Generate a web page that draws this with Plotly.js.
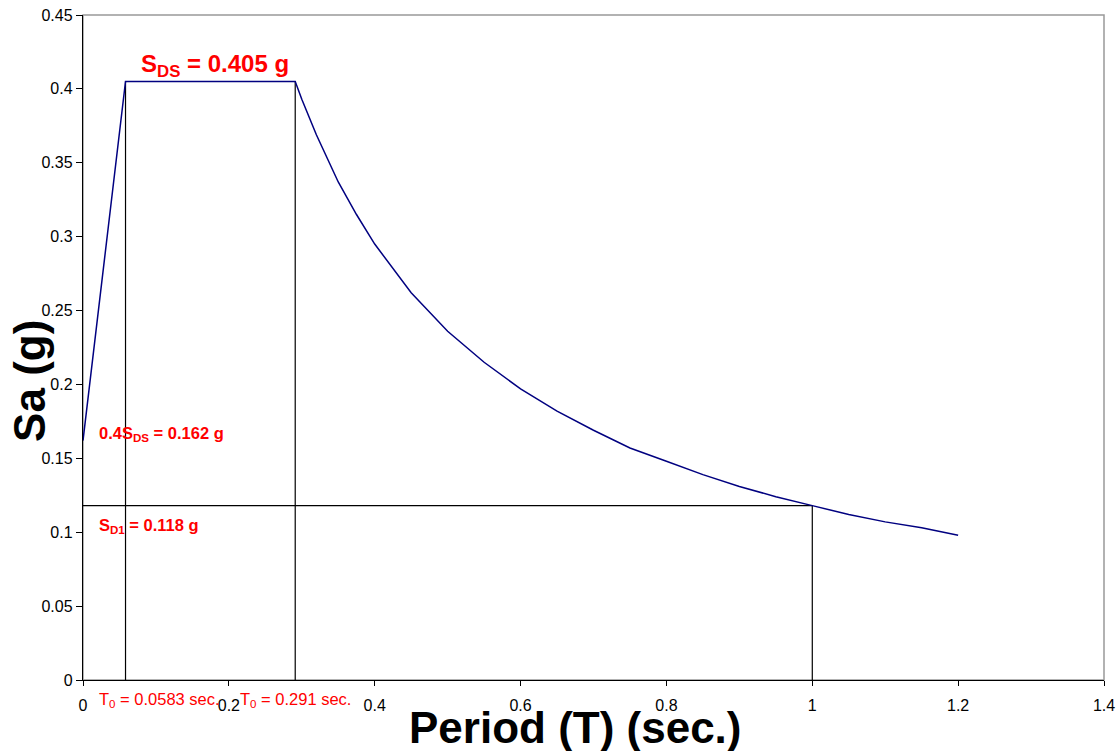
<!DOCTYPE html>
<html>
<head>
<meta charset="utf-8">
<script src="https://cdn.plot.ly/plotly-3.0.1.min.js"></script>
<style>html,body{margin:0;padding:0;background:#fff;}#chart{width:1120px;height:751px;}</style>
</head>
<body>
<div id="chart"></div>
<script>
// Design response spectrum
const periodT = [0, 0.01, 0.02, 0.03, 0.04, 0.045, 0.05, 0.0583, 0.1, 0.15, 0.2, 0.25, 0.291, 0.3, 0.32, 0.35, 0.375, 0.4, 0.45, 0.5, 0.55, 0.6, 0.65, 0.7, 0.75, 0.8, 0.85, 0.9, 0.95, 1.0, 1.05, 1.1, 1.15, 1.2];
const saG     = [0.162, 0.204, 0.245, 0.287, 0.329, 0.352, 0.370, 0.405, 0.405, 0.405, 0.405, 0.405, 0.405, 0.393, 0.369, 0.337, 0.315, 0.295, 0.262, 0.236, 0.215, 0.197, 0.182, 0.169, 0.157, 0.148, 0.139, 0.131, 0.124, 0.118, 0.112, 0.107, 0.103, 0.098];

// Reference lines
const T0 = 0.0583, TS = 0.291, T1 = 1.0;
const SDS = 0.405, SD1 = 0.118;

const xTicks = [0, 0.2, 0.4, 0.6, 0.8, 1, 1.2, 1.4];
const xTickText = ['0', '0.2', '0.4', '0.6', '0.8', '1', '1.2', '1.4'];
const yTicks = [0, 0.05, 0.1, 0.15, 0.2, 0.25, 0.3, 0.35, 0.4, 0.45];
const yTickText = ['0', '0.05', '0.1', '0.15', '0.2', '0.25', '0.3', '0.35', '0.4', '0.45'];

const blackLine = {color: '#000000', width: 1.2};
const traces = [
  {x: [T0, T0], y: [0, SDS], mode: 'lines', line: blackLine, hoverinfo: 'skip'},
  {x: [TS, TS], y: [0, SDS], mode: 'lines', line: blackLine, hoverinfo: 'skip'},
  {x: [0, T1], y: [SD1, SD1], mode: 'lines', line: blackLine, hoverinfo: 'skip'},
  {x: [T1, T1], y: [0, SD1], mode: 'lines', line: blackLine, hoverinfo: 'skip'},
  {x: periodT, y: saG, mode: 'lines', line: {color: '#000080', width: 1.5}}
];

const font = 'Arial, "Liberation Sans", sans-serif';
const layout = {
  width: 1120, height: 751,
  margin: {l: 83, r: 16, t: 15, b: 71},
  paper_bgcolor: '#ffffff', plot_bgcolor: '#ffffff',
  showlegend: false,
  font: {family: font, color: '#000000', size: 16},
  xaxis: {
    range: [0, 1.4], tickvals: xTicks, ticktext: xTickText,
    showgrid: false, zeroline: false, showline: true, linecolor: '#000000', linewidth: 1.2,
    ticks: 'outside', ticklen: 5, tickcolor: '#000000', ticklabelstandoff: 6,
    tickfont: {family: font, size: 16, color: '#000000'}
  },
  yaxis: {
    range: [0, 0.45], tickvals: yTicks, ticktext: yTickText,
    showgrid: false, zeroline: false, showline: true, linecolor: '#000000', linewidth: 1.2,
    ticks: 'outside', ticklen: 6, tickcolor: '#000000',
    tickfont: {family: font, size: 16, color: '#000000'}
  },
  shapes: [
    {type: 'rect', xref: 'paper', yref: 'paper', x0: 0, x1: 1, y0: 0, y1: 1, line: {color: '#999999', width: 1.5}, layer: 'below'}
  ],
  annotations: [
    // axis titles
    {x: 0.482, y: -0.0715, xref: 'paper', yref: 'paper', xanchor: 'center', yanchor: 'middle', showarrow: false,
     text: '<b>Period (T) (sec.)</b>', font: {family: font, size: 44, color: '#000000'}},
    {x: -0.053, y: 0.4496, xref: 'paper', yref: 'paper', xanchor: 'center', yanchor: 'middle', showarrow: false, textangle: -90,
     text: '<b>Sa (g)</b>', font: {family: font, size: 44, color: '#000000'}},
    // labels
    {x: 0.077, y: 0.4155, xref: 'x', yref: 'y', xanchor: 'left', yanchor: 'middle', showarrow: false,
     text: '<b>S<sub>DS</sub> = 0.405 g</b>', font: {family: font, size: 24, color: '#ff0000'}},
    {x: 0.019, y: 0.1665, xref: 'x', yref: 'y', xanchor: 'left', yanchor: 'middle', showarrow: false,
     text: '<b>0.4S<sub>DS</sub> = 0.162 g</b>', font: {family: font, size: 16.5, color: '#ff0000'}},
    {x: 0.019, y: 0.1045, xref: 'x', yref: 'y', xanchor: 'left', yanchor: 'middle', showarrow: false,
     text: '<b>S<sub>D1</sub> = 0.118 g</b>', font: {family: font, size: 16.5, color: '#ff0000'}},
    {x: 0.019, y: -0.030, xref: 'x', yref: 'paper', xanchor: 'left', yanchor: 'middle', showarrow: false,
     text: 'T<sub>0</sub> = 0.0583 sec.', font: {family: font, size: 16.5, color: '#ff0000'}},
    {x: 0.213, y: -0.030, xref: 'x', yref: 'paper', xanchor: 'left', yanchor: 'middle', showarrow: false,
     text: 'T<sub>0</sub> = 0.291 sec.', font: {family: font, size: 16.5, color: '#ff0000'}}
  ]
};

Plotly.newPlot('chart', traces, layout, {staticPlot: true, displayModeBar: false});
</script>
</body>
</html>
